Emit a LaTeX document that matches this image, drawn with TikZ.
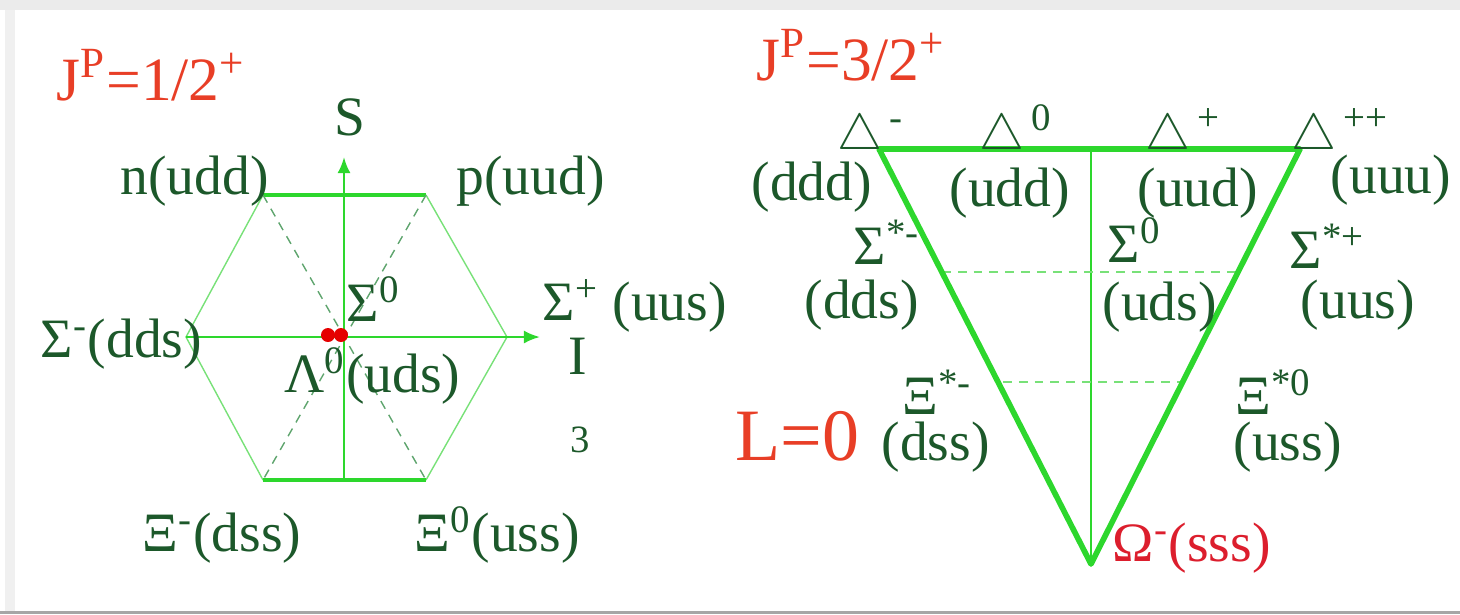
\documentclass[tikz,border=0pt]{standalone}
\usepackage{fontspec}
\setmainfont{Liberation Serif}
\usetikzlibrary{arrows.meta}
\definecolor{txtgreen}{RGB}{28,88,42}
\definecolor{linegreen}{RGB}{45,215,45}
\definecolor{palegreen}{RGB}{120,225,120}
\definecolor{dashgreen}{RGB}{95,165,110}
\definecolor{titlered}{RGB}{232,62,38}
\definecolor{omegared}{RGB}{220,30,45}
\begin{document}
\begin{tikzpicture}[x=0.01cm, y=-0.01cm,
    lab/.style={text=txtgreen, font=\fontsize{15.8}{18}\selectfont, inner sep=0pt, anchor=base west},
    title/.style={text=titlered, font=\fontsize{17.5}{20}\selectfont, inner sep=0pt, anchor=base west},
    hexside/.style={palegreen, line width=0.4pt},
    hexedge/.style={linegreen, line width=0.9pt},
    hexdiag/.style={dashgreen, line width=0.4pt, dash pattern=on 2.5pt off 2pt},
    axis/.style={linegreen, line width=0.7pt, -{Latex[length=1.6mm,width=1.3mm]}},
    tri/.style={linegreen, line width=1.6pt, line join=round},
    trithin/.style={linegreen, line width=0.5pt},
    tridash/.style={palegreen, line width=0.4pt, dash pattern=on 2.5pt off 2pt},
    dot/.style={circle, fill=red!90!black, minimum size=0.14cm, inner sep=0pt}
]
    % --- frame ---
    \fill[black!8] (0,0) rectangle (1460,10);
    \fill[black!6] (5,10) rectangle (15,614);
    \fill[black!35] (0,611) rectangle (1460,614);

    % --- octet J^P = 1/2^+ ---
    \coordinate (hTL) at (263,195);
    \coordinate (hTR) at (426,195);
    \coordinate (hR) at (507,337);
    \coordinate (hBR) at (426,480);
    \coordinate (hBL) at (263,480);
    \coordinate (hL) at (186,337);
    \coordinate (sBot) at (344,480);
    \coordinate (sTip) at (344,157);
    \coordinate (iTip) at (540,337);

    \draw[hexside] (hTR) -- (hR) -- (hBR);
    \draw[hexside] (hBL) -- (hL) -- (hTL);
    \draw[hexedge] (hTL) -- (hTR);
    \draw[hexedge] (hBL) -- (hBR);
    \draw[hexdiag] (hTL) -- (hBR);
    \draw[hexdiag] (hTR) -- (hBL);
    \draw[axis] (hL) -- (iTip);
    \draw[axis] (sBot) -- (sTip);

    \node[dot] (lamdot) at (328,335) {};
    \node[dot] (sigdot) at (341,335) {};

    \node[title] (jp1) at (56,100) {J\textsuperscript{P}=1/2\textsuperscript{+}};
    \node[lab, anchor=base] (saxis) at (350,135) {S};
    \node[lab] (neutron) at (120,194) {n(udd)};
    \node[lab] (proton) at (456,194) {p(uud)};
    \node[lab] (sig0) at (346,321) {Σ\textsuperscript{0}};
    \node[lab] (sigp) at (542,320) {Σ\textsuperscript{+} (uus)};
    \node[lab, anchor=base] (iaxis) at (578,374) {I};
    \node[lab, anchor=base, font=\fontsize{11}{13}\selectfont] (iidx) at (580,452) {3};
    \node[lab] (sigm) at (40,357) {Σ\textsuperscript{-}(dds)};
    \node[lab] (lam0) at (284,392) {Λ\textsuperscript{0}(uds)};
    \node[lab] (xim) at (142,551) {Ξ\textsuperscript{-}(dss)};
    \node[lab] (xi0) at (414,551) {Ξ\textsuperscript{0}(uss)};

    % --- decuplet J^P = 3/2^+ ---
    \coordinate (tL) at (879,149);
    \coordinate (tR) at (1300,149);
    \coordinate (tB) at (1091,564);
    \coordinate (tTop) at (1091,149);
    \coordinate (dA) at (942,272);
    \coordinate (dB) at (1238,272);
    \coordinate (dC) at (1003,382);
    \coordinate (dD) at (1180,382);

    \draw[trithin] (tTop) -- (tB);
    \draw[tridash] (dA) -- (dB);
    \draw[tridash] (dC) -- (dD);
    \draw[tri] (tL) -- (tR) -- (tB) -- cycle;

    \node[title] (jp3) at (756,80) {J\textsuperscript{P}=3/2\textsuperscript{+}};
    \node[lab] (delm) at (837,149) {$\bigtriangleup$\textsuperscript{\,-}};
    \node[lab] (del0) at (979,149) {$\bigtriangleup$\textsuperscript{\,0}};
    \node[lab] (delp) at (1145,149) {$\bigtriangleup$\textsuperscript{\,+}};
    \node[lab] (delpp) at (1291,149) {$\bigtriangleup$\textsuperscript{\,++}};
    \node[lab] (ddd) at (751,200) {(ddd)};
    \node[lab] (udd) at (949,206) {(udd)};
    \node[lab] (uud) at (1137,206) {(uud)};
    \node[lab] (uuu) at (1330,193) {(uuu)};
    \node[lab] (sigsm) at (853,264) {Σ\textsuperscript{*-}};
    \node[lab] (dds) at (804,318) {(dds)};
    \node[lab] (sigs0) at (1107,262) {Σ\textsuperscript{0}};
    \node[lab] (uds) at (1102,320) {(uds)};
    \node[lab] (sigsp) at (1289,268) {Σ\textsuperscript{*+}};
    \node[lab] (uus) at (1300,318) {(uus)};
    \node[title, font=\fontsize{21}{24}\selectfont] (lzero) at (735,460) {L=0};
    \node[lab] (xism) at (902,414) {Ξ\textsuperscript{*-}};
    \node[lab] (dss) at (881,460) {(dss)};
    \node[lab] (xis0) at (1235,414) {Ξ\textsuperscript{*0}};
    \node[lab] (uss) at (1233,460) {(uss)};
    \node[lab, text=omegared] (omega) at (1112,561) {Ω\textsuperscript{-}(sss)};

    \useasboundingbox (0,0) rectangle (1460,614);
\end{tikzpicture}
\end{document}
